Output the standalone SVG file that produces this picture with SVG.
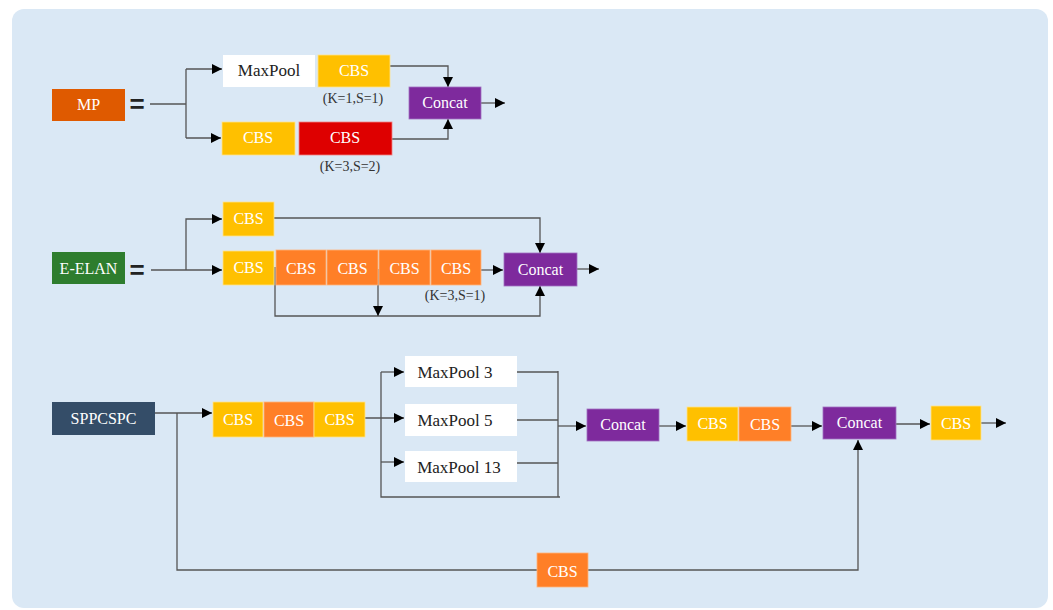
<svg xmlns="http://www.w3.org/2000/svg" width="1053" height="610" viewBox="0 0 1053 610">
<defs>
<marker id="arr" viewBox="0 0 10 10" refX="10" refY="5" markerWidth="10" markerHeight="10" markerUnits="userSpaceOnUse" orient="auto">
<path d="M0,0 L10,5 L0,10 z" fill="#000"/>
</marker>
<style>
.ln{fill:none;stroke:#555;stroke-width:1.3}
.ar{fill:none;stroke:#555;stroke-width:1.3;marker-end:url(#arr)}
.t{font-family:"Liberation Serif","Times New Roman",serif;font-size:16px;fill:#fff;text-anchor:middle;dominant-baseline:central}
.td{font-family:"Liberation Serif","Times New Roman",serif;font-size:17px;fill:#222;text-anchor:middle;dominant-baseline:central}
.tk{font-family:"Liberation Serif","Times New Roman",serif;font-size:14px;fill:#333;text-anchor:middle;dominant-baseline:central}
.eq{font-family:"Liberation Sans",Arial,sans-serif;font-size:26px;font-weight:bold;fill:#222;text-anchor:middle;dominant-baseline:central}
.y{fill:#FFC000;stroke:#FFE38A;stroke-width:0.8}
.o{fill:#FF7F27;stroke:#FFB37A;stroke-width:0.8}
.r{fill:#DE0000;stroke:#F08080;stroke-width:0.8}
.p{fill:#7E2A9D;stroke:#A070C0;stroke-width:0.8}
.w{fill:#FFFFFF}
</style>
</defs>
<rect x="12" y="9" width="1036" height="599" rx="12" fill="#DAE8F5"/>

<g id="connectors">
<!-- MP -->
<path class="ln" d="M150,104 H186 M186,69 V138"/>
<path class="ar" d="M186,69 H222"/>
<path class="ar" d="M186,138 H221"/>
<path class="ar" d="M390,66 H448 V87"/>
<path class="ar" d="M392,139 H448 V119"/>
<path class="ar" d="M481,103 H505"/>
<!-- E-ELAN -->
<path class="ar" d="M151,270 H222"/>
<path class="ar" d="M186,270 V219 H222"/>
<path class="ar" d="M274,218 H540 V253"/>
<path class="ar" d="M481,270 H503"/>
<path class="ar" d="M275,267 V316 H540 V286"/>
<path class="ar" d="M378,269 V316"/>
<path class="ar" d="M577,269 H599"/>
<!-- SPPCSPC -->
<path class="ar" d="M155,413 H212"/>
<path class="ar" d="M177,413 V570 H858 V440"/>
<path class="ar" d="M365,418 H404"/>
<path class="ln" d="M381,372 V497 H560"/>
<path class="ar" d="M381,372 H404"/>
<path class="ar" d="M381,462 H404"/>
<path class="ln" d="M516,372 H558 M516,420 H558 M516,463 H558 M558,371 V497"/>
<path class="ar" d="M558,426 H586"/>
<path class="ar" d="M659,426 H686"/>
<path class="ar" d="M791,426 H822"/>
<path class="ar" d="M896,424 H930"/>
<path class="ar" d="M981,423 H1006"/>
</g>

<!-- MP block -->
<g id="mp"><rect x="52" y="89" width="73" height="32" fill="#DF5A00"/><text class="t" x="88.5" y="104" font-size="17">MP</text></g>
<text class="eq" x="137" y="104">=</text>
<g id="mp-maxpool"><rect class="w" x="223" y="55" width="92" height="32"/><text class="td" x="269" y="70">MaxPool</text></g>
<g id="mp-cbs1"><rect class="y" x="318" y="55" width="72" height="32"/><text class="t" x="354" y="70">CBS</text></g>
<text class="tk" x="353" y="98">(K=1,S=1)</text>
<g id="mp-cbs2"><rect class="y" x="222" y="122" width="73" height="33"/><text class="t" x="258" y="137">CBS</text></g>
<g id="mp-cbs3"><rect class="r" x="299" y="122" width="93" height="33"/><text class="t" x="345" y="137">CBS</text></g>
<text class="tk" x="350" y="166">(K=3,S=2)</text>
<g id="mp-concat"><rect class="p" x="409" y="87" width="72" height="32"/><text class="t" x="445" y="102" font-size="17">Concat</text></g>

<!-- E-ELAN block -->
<g id="eelan"><rect x="52" y="252" width="73" height="32" fill="#2E7D2E"/><text class="t" x="88.5" y="268">E-ELAN</text></g>
<text class="eq" x="137" y="270">=</text>
<g id="ee-cbs-top"><rect class="y" x="223" y="202" width="51" height="34"/><text class="t" x="248.5" y="218">CBS</text></g>
<g id="ee-cbs1"><rect class="y" x="223" y="251" width="51" height="34"/><text class="t" x="248.5" y="267">CBS</text></g>
<g id="ee-cbs2"><rect class="o" x="276" y="250" width="50" height="35"/><text class="t" x="301" y="268">CBS</text></g>
<g id="ee-cbs3"><rect class="o" x="327" y="250" width="51" height="35"/><text class="t" x="352.5" y="268">CBS</text></g>
<g id="ee-cbs4"><rect class="o" x="379" y="250" width="51" height="35"/><text class="t" x="404.5" y="268">CBS</text></g>
<g id="ee-cbs5"><rect class="o" x="431" y="250" width="50" height="35"/><text class="t" x="456" y="268">CBS</text></g>
<text class="tk" x="455" y="295">(K=3,S=1)</text>
<g id="ee-concat"><rect class="p" x="504" y="253" width="73" height="33"/><text class="t" x="540.5" y="269" font-size="17">Concat</text></g>

<!-- SPPCSPC block -->
<g id="sppcspc"><rect x="52" y="402" width="103" height="33" fill="#344D68"/><text class="t" x="103.5" y="418" font-size="17">SPPCSPC</text></g>
<g id="sp-cbs1"><rect class="y" x="213" y="402" width="50" height="35"/><text class="t" x="238" y="419">CBS</text></g>
<g id="sp-cbs2"><rect class="o" x="264" y="402" width="50" height="35"/><text class="t" x="289" y="420">CBS</text></g>
<g id="sp-cbs3"><rect class="y" x="314" y="402" width="51" height="35"/><text class="t" x="339.5" y="419">CBS</text></g>
<g id="sp-mp3"><rect class="w" x="405" y="356" width="112" height="31"/><text class="td" x="455" y="372">MaxPool 3</text></g>
<g id="sp-mp5"><rect class="w" x="405" y="404" width="112" height="32"/><text class="td" x="455" y="420">MaxPool 5</text></g>
<g id="sp-mp13"><rect class="w" x="405" y="451" width="112" height="31"/><text class="td" x="459" y="467">MaxPool 13</text></g>
<g id="sp-concat1"><rect class="p" x="587" y="409" width="72" height="32"/><text class="t" x="623" y="424" font-size="17">Concat</text></g>
<g id="sp-cbs4"><rect class="y" x="687" y="407" width="51" height="34"/><text class="t" x="712.5" y="423">CBS</text></g>
<g id="sp-cbs5"><rect class="o" x="739" y="407" width="52" height="34"/><text class="t" x="765" y="424">CBS</text></g>
<g id="sp-concat2"><rect class="p" x="823" y="407" width="73" height="32"/><text class="t" x="859.5" y="422" font-size="17">Concat</text></g>
<g id="sp-cbs6"><rect class="y" x="931" y="406" width="50" height="34"/><text class="t" x="956" y="423">CBS</text></g>
<g id="sp-cbs7"><rect class="o" x="537" y="553" width="51" height="34"/><text class="t" x="562.5" y="571">CBS</text></g>
</svg>
